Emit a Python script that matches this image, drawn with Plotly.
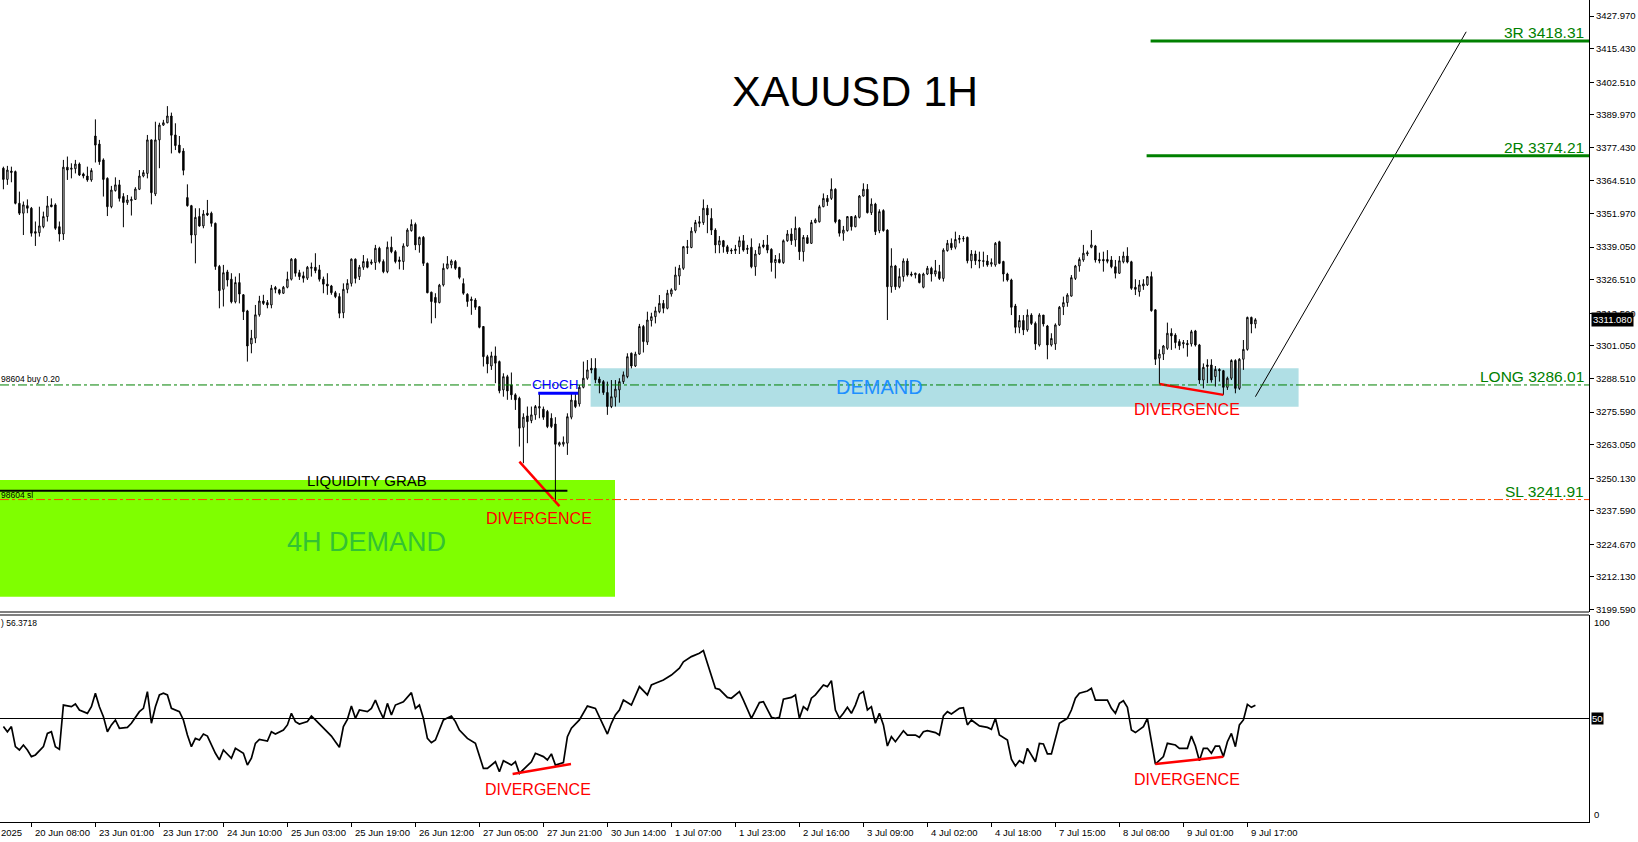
import plotly.graph_objects as go

# ---------------- DATA ----------------
open_ = [3369.4,3365.1,3368.3,3368.1,3355.9,3352.1,3355.0,3354.0,3345.0,3344.6,
3346.9,3350.8,3355.3,3355.3,3346.9,3344.1,3369.8,3369.0,3369.2,3371.0,
3367.2,3366.4,3364.9,3381.8,3378.7,3372.6,3365.5,3354.6,3360.8,3363.0,
3358.5,3356.2,3356.9,3357.4,3361.3,3366.4,3367.4,3380.3,3359.5,3380.3,
3386.0,3386.9,3389.5,3382.2,3378.3,3376.0,3358.1,3355.0,3343.7,3350.8,
3347.2,3352.1,3352.1,3348.2,3331.6,3322.8,3329.5,3326.7,3318.0,3325.4,
3320.7,3314.5,3301.8,3304.0,3313.0,3318.3,3317.7,3316.8,3323.5,3322.6,
3321.3,3323.6,3326.7,3334.4,3329.2,3328.0,3327.1,3330.9,3331.3,3330.3,
3326.7,3324.8,3324.1,3321.5,3320.0,3313.8,3322.8,3325.1,3334.4,3327.7,
3331.3,3333.5,3332.8,3333.1,3338.6,3333.5,3329.6,3339.0,3337.3,3334.1,
3333.5,3339.5,3345.4,3347.8,3339.9,3342.8,3332.8,3321.7,3319.7,3317.7,
3324.5,3330.9,3332.2,3333.5,3331.2,3325.0,3320.9,3319.0,3318.7,3316.1,
3308.5,3296.9,3293.3,3297.2,3295.0,3284.1,3289.2,3286.0,3282.2,3280.9,
3269.7,3274.1,3272.3,3274.5,3277.1,3276.7,3275.8,3273.2,3271.0,3262.9,
3263.2,3263.6,3273.6,3280.0,3278.7,3285.1,3288.6,3292.4,3292.4,3288.3,
3287.3,3283.1,3277.7,3281.3,3284.1,3287.3,3289.2,3298.2,3293.3,3297.9,
3308.5,3302.5,3310.8,3312.3,3314.2,3317.4,3315.5,3321.0,3322.6,3327.9,
3330.9,3338.9,3338.9,3345.2,3348.2,3348.5,3354.0,3350.1,3345.6,3339.9,
3341.5,3339.2,3337.9,3337.7,3339.2,3341.5,3338.6,3339.0,3331.5,3336.4,
3339.9,3339.9,3338.2,3333.1,3334.3,3333.1,3341.5,3344.1,3341.8,3346.3,
3337.3,3342.7,3340.5,3348.5,3348.8,3354.6,3357.8,3357.8,3361.3,3349.5,
3344.4,3345.4,3350.8,3346.9,3350.5,3358.7,3361.3,3352.3,3355.6,3345.4,
3353.1,3345.6,3323.8,3331.8,3323.8,3327.7,3333.7,3328.7,3328.4,3328.6,
3323.6,3328.7,3330.9,3328.7,3329.6,3327.0,3337.7,3340.5,3339.0,3342.0,
3342.2,3342.8,3333.8,3336.4,3334.1,3333.8,3333.7,3332.5,3332.2,3341.1,
3333.5,3328.7,3326.4,3316.4,3308.2,3310.8,3307.2,3312.9,3309.7,3301.4,
3312.9,3308.7,3301.4,3301.8,3309.1,3316.1,3317.7,3320.2,3327.0,3331.8,
3334.1,3336.4,3339.0,3339.5,3334.3,3334.3,3334.3,3334.1,3331.5,3329.0,
3333.4,3335.6,3333.4,3323.6,3321.9,3324.1,3324.5,3327.7,3314.9,3296.3,
3297.9,3300.1,3305.9,3305.2,3302.7,3301.8,3302.0,3301.8,3306.8,3301.4,
3287.9,3293.1,3293.7,3289.2,3292.0,3291.5,3285.1,3288.6,3295.4,3284.7,
3295.9,3299.7,3312.0,3309.5]

high = [3370.0,3370.3,3370.0,3368.5,3360.4,3356.6,3357.4,3354.5,3348.9,3354.6,
3352.7,3358.7,3357.8,3355.9,3348.9,3372.6,3373.9,3371.3,3372.6,3371.6,
3367.7,3370.0,3369.4,3388.2,3380.3,3373.2,3365.9,3362.6,3365.9,3364.9,
3359.8,3359.1,3358.5,3362.1,3368.7,3368.7,3382.2,3380.5,3387.3,3386.9,
3388.0,3393.3,3390.8,3386.7,3381.8,3377.1,3363.2,3355.3,3354.0,3354.0,
3353.3,3357.2,3352.7,3348.5,3332.2,3332.2,3330.3,3329.0,3327.7,3329.0,
3321.0,3314.9,3307.2,3316.8,3320.3,3320.7,3318.7,3324.5,3324.1,3323.0,
3324.1,3329.6,3334.8,3334.8,3330.3,3329.6,3331.8,3333.1,3336.7,3332.2,
3327.7,3329.0,3324.5,3322.2,3321.3,3325.1,3326.7,3334.7,3334.7,3332.2,
3336.0,3334.7,3334.3,3339.9,3339.2,3334.3,3341.2,3343.1,3337.9,3335.4,
3340.5,3346.3,3349.7,3348.5,3343.1,3343.3,3333.1,3321.9,3321.3,3324.9,
3332.8,3335.6,3334.3,3334.1,3331.5,3327.0,3321.3,3320.0,3319.4,3316.4,
3308.7,3297.6,3298.8,3300.8,3295.4,3290.5,3289.9,3290.8,3282.8,3281.5,
3275.1,3277.7,3277.7,3278.3,3282.8,3277.7,3276.4,3275.1,3273.6,3264.2,
3266.2,3275.1,3282.8,3282.8,3286.0,3295.0,3295.6,3296.3,3296.3,3289.2,
3287.9,3287.3,3287.9,3287.9,3288.6,3291.2,3298.2,3298.5,3298.8,3309.5,
3309.1,3314.2,3313.8,3316.1,3320.6,3318.7,3322.6,3323.2,3331.5,3332.2,
3339.5,3341.8,3346.7,3349.5,3351.0,3357.4,3355.3,3354.0,3346.3,3343.3,
3341.8,3339.9,3338.6,3339.9,3343.1,3343.7,3339.9,3342.4,3337.9,3340.5,
3341.8,3343.7,3338.6,3336.0,3336.7,3342.0,3345.6,3346.3,3350.8,3346.7,
3343.7,3343.7,3349.5,3350.1,3355.3,3359.7,3359.1,3365.5,3361.7,3349.7,
3347.2,3351.0,3351.0,3351.4,3359.1,3363.6,3363.3,3357.8,3356.1,3353.6,
3353.6,3345.9,3338.6,3332.2,3330.9,3334.7,3334.7,3329.6,3329.2,3329.0,
3329.2,3331.8,3331.5,3334.1,3332.2,3338.6,3341.8,3342.4,3345.0,3343.7,
3343.3,3343.1,3337.9,3337.7,3337.3,3337.3,3336.0,3334.7,3341.0,3341.5,
3333.8,3329.2,3326.9,3317.2,3312.9,3312.9,3315.1,3313.6,3310.4,3313.6,
3312.9,3309.1,3305.9,3309.7,3316.4,3320.0,3321.3,3328.3,3332.2,3335.1,
3339.9,3337.7,3345.6,3339.9,3336.9,3337.3,3337.9,3335.6,3334.1,3335.6,
3337.3,3339.0,3333.8,3326.7,3326.4,3326.7,3327.9,3329.6,3315.1,3299.7,
3301.4,3310.0,3307.8,3305.9,3303.6,3303.3,3303.3,3307.2,3307.2,3301.8,
3294.3,3295.9,3295.9,3293.3,3292.4,3291.8,3289.2,3295.9,3295.9,3296.3,
3303.3,3312.3,3312.3,3311.7]

low = [3361.3,3363.0,3364.0,3355.5,3351.4,3343.7,3352.1,3343.1,3339.5,3343.1,
3346.3,3348.9,3354.4,3345.7,3341.2,3341.8,3364.9,3365.5,3367.4,3366.4,
3365.5,3364.2,3364.2,3371.6,3370.7,3358.5,3351.0,3354.0,3360.4,3356.6,
3346.7,3355.3,3351.2,3357.2,3361.0,3365.9,3365.5,3355.5,3358.7,3369.4,
3385.7,3386.7,3375.1,3376.4,3375.1,3366.7,3354.6,3340.5,3332.8,3346.9,
3346.3,3351.0,3346.9,3330.3,3315.5,3316.2,3323.9,3317.4,3317.4,3317.4,
3311.0,3295.0,3298.2,3302.1,3312.3,3316.8,3315.5,3315.5,3321.3,3320.7,
3321.0,3323.2,3326.2,3327.7,3326.4,3325.4,3326.4,3327.7,3329.0,3325.8,
3321.3,3320.7,3320.7,3319.4,3311.7,3311.7,3321.3,3323.9,3325.1,3326.4,
3330.3,3330.9,3332.2,3330.3,3332.8,3329.0,3329.0,3336.7,3332.8,3330.5,
3330.3,3339.2,3345.0,3337.9,3336.9,3331.8,3321.3,3309.7,3311.7,3317.4,
3323.9,3330.5,3330.9,3330.3,3326.7,3320.7,3316.1,3313.0,3314.9,3307.8,
3293.1,3290.5,3291.8,3286.7,3282.8,3281.5,3280.3,3280.3,3276.4,3262.3,
3255.9,3263.6,3271.3,3272.6,3273.2,3272.6,3269.4,3269.4,3241.2,3262.3,
3262.3,3259.1,3272.8,3277.1,3277.7,3284.7,3288.0,3290.5,3286.7,3282.8,
3282.2,3274.5,3277.1,3277.7,3279.2,3286.4,3288.6,3292.4,3292.9,3297.6,
3298.5,3301.4,3308.5,3309.7,3313.6,3313.6,3315.1,3320.0,3322.3,3324.5,
3330.3,3336.4,3338.6,3344.4,3346.7,3347.6,3344.4,3343.7,3336.7,3336.7,
3336.9,3336.4,3336.4,3336.4,3336.4,3337.3,3336.4,3330.9,3328.0,3336.0,
3338.6,3336.7,3329.6,3327.0,3332.8,3332.6,3341.1,3339.9,3339.2,3334.1,
3333.5,3340.3,3340.3,3348.2,3348.5,3354.4,3354.9,3357.2,3348.2,3343.1,
3341.5,3345.0,3345.4,3346.7,3350.1,3358.5,3352.0,3351.4,3343.7,3344.4,
3345.0,3311.0,3321.5,3322.6,3323.2,3325.8,3327.7,3327.7,3327.0,3325.1,
3323.2,3328.3,3325.8,3327.7,3326.4,3325.8,3337.3,3337.9,3338.2,3340.5,
3341.1,3332.8,3330.9,3332.2,3330.9,3331.5,3331.5,3331.5,3331.5,3332.5,
3325.8,3325.8,3312.9,3305.9,3305.9,3305.2,3306.5,3309.1,3299.5,3300.8,
3308.5,3295.9,3300.8,3299.5,3308.7,3312.9,3316.1,3320.0,3326.4,3329.6,
3333.4,3335.6,3338.6,3333.1,3332.8,3329.6,3332.8,3330.9,3327.0,3328.7,
3332.8,3332.8,3322.6,3320.6,3320.0,3322.6,3324.1,3314.2,3293.7,3286.4,
3295.6,3299.5,3299.5,3300.1,3299.5,3300.1,3296.9,3300.8,3300.8,3286.4,
3284.7,3286.7,3286.9,3285.4,3287.3,3282.2,3284.1,3287.9,3282.8,3284.1,
3291.8,3299.2,3305.9,3307.8]

close = [3365.1,3368.7,3367.8,3355.9,3352.1,3355.3,3354.0,3344.4,3344.4,3347.2,
3350.8,3354.9,3354.6,3346.3,3344.1,3369.8,3368.7,3369.4,3371.0,3366.8,
3366.4,3364.9,3368.5,3378.3,3371.9,3365.1,3354.6,3361.0,3363.0,3357.8,
3356.2,3357.2,3357.4,3361.4,3366.4,3367.7,3380.3,3360.0,3380.3,3386.0,
3386.9,3389.5,3382.1,3378.1,3375.5,3368.6,3355.0,3343.7,3350.5,3347.2,
3351.8,3351.4,3348.2,3331.6,3322.3,3329.2,3326.4,3318.0,3325.4,3321.0,
3314.2,3301.0,3304.0,3313.0,3318.3,3317.4,3316.8,3323.2,3322.8,3321.3,
3323.6,3326.7,3334.4,3329.0,3327.7,3327.1,3331.3,3331.3,3330.0,3326.7,
3324.8,3324.1,3321.5,3320.0,3313.6,3322.8,3325.1,3334.4,3327.0,3331.3,
3333.5,3331.3,3333.3,3338.6,3333.5,3329.6,3339.0,3337.3,3333.5,3333.5,
3339.5,3345.6,3347.8,3339.9,3342.8,3332.8,3321.5,3318.1,3317.7,3324.4,
3330.9,3332.6,3333.7,3330.9,3327.4,3321.3,3318.1,3318.5,3315.9,3308.2,
3296.9,3294.1,3297.2,3294.4,3283.8,3289.2,3283.7,3282.2,3280.3,3269.4,
3273.6,3271.9,3274.5,3277.7,3277.7,3273.6,3270.0,3270.0,3263.2,3263.8,
3264.0,3273.8,3280.2,3277.7,3285.1,3288.6,3291.8,3291.8,3288.0,3286.9,
3283.1,3277.7,3281.5,3284.4,3287.3,3289.9,3296.9,3293.3,3297.9,3308.5,
3302.7,3311.0,3312.3,3314.5,3317.4,3315.5,3321.3,3322.6,3328.3,3330.9,
3339.2,3339.2,3345.2,3348.5,3348.8,3354.0,3351.4,3345.6,3339.9,3341.5,
3339.2,3337.3,3337.6,3338.3,3341.5,3337.9,3338.2,3331.5,3336.4,3339.2,
3339.2,3337.9,3333.1,3334.3,3333.1,3341.5,3344.1,3341.5,3346.3,3337.3,
3342.8,3340.5,3348.5,3349.5,3354.6,3357.8,3356.5,3361.3,3348.8,3344.4,
3345.6,3350.8,3346.9,3350.8,3358.7,3361.3,3352.3,3355.6,3345.0,3352.7,
3345.4,3323.8,3331.8,3323.8,3327.7,3333.7,3328.3,3328.3,3329.0,3325.4,
3328.7,3330.9,3328.7,3330.0,3327.0,3337.9,3340.5,3338.8,3342.0,3342.4,
3342.4,3333.8,3336.4,3333.8,3333.7,3333.6,3332.2,3333.1,3340.5,3332.8,
3328.7,3326.4,3315.9,3308.2,3310.8,3307.2,3312.9,3309.7,3301.8,3312.9,
3309.5,3301.4,3303.9,3309.1,3315.9,3317.7,3320.6,3327.3,3331.8,3334.3,
3336.7,3336.9,3339.9,3334.1,3333.8,3333.8,3333.6,3331.5,3329.0,3333.8,
3335.6,3333.3,3323.2,3322.8,3324.5,3324.9,3327.7,3314.6,3295.9,3297.9,
3301.0,3305.9,3304.9,3302.3,3301.1,3302.3,3301.5,3306.5,3301.4,3287.9,
3292.8,3293.7,3287.9,3292.0,3291.5,3285.1,3288.6,3295.4,3284.7,3295.9,
3299.7,3312.0,3309.5,3311.08]

bars = list(range(len(close)))

rsi_bar = [0,1,2,3,4,5,6,7,8,10,11,12,13,14,15,17,18,19,21,22,23,24,25,26,27,28,29,31,32,34,
35,36,37,38,39,40,41,42,44,45,46,47,48,49,50,51,53,54,55,57,58,60,61,62,63,64,66,67,68,70,
71,72,73,74,76,77,78,80,81,82,83,84,85,86,87,88,89,91,92,93,94,95,96,97,98,100,102,103,104,105,
106,107,108,110,112,113,114,116,118,119,120,121,123,124,125,127,128,129,131,132,133,135,136,137,138,140,141,142,144,145,
146,148,149,151,152,153,154,155,157,158,159,161,162,163,165,167,169,170,172,174,175,176,178,179,181,182,184,185,187,189,
190,192,193,194,195,197,198,199,200,201,202,203,205,206,207,208,209,210,211,212,213,214,215,216,217,218,219,220,221,222,
223,225,226,228,229,230,231,233,234,235,236,237,239,240,241,242,244,246,247,248,249,251,252,253,254,255,256,258,259,260,
261,262,263,264,266,267,268,269,271,272,273,276,277,278,279,280,281,282,283,285,286,287,288,290,291,293,294,296,297,298,
299,300,301,302,303,304,305,306,307,308,309,310,311,312,313]
rsi_val = [46.1,43.6,46.1,36.4,34.8,37.2,34.8,31.6,32.4,36.4,42.8,43.6,36.4,35.1,56.5,55.7,57.0,54.1,52.5,55.7,62.2,55.7,50.9,43.6,46.9,49.3,45.3,45.7,47.7,53.3,
54.9,63.0,47.7,55.7,61.4,62.2,61.4,54.9,53.3,49.3,42.0,36.4,40.4,39.6,42.5,41.5,33.2,30.0,34.8,30.8,35.6,33.2,27.5,30.8,38.0,39.9,39.1,43.6,42.5,44.4,
46.9,52.5,48.5,47.3,48.5,51.2,49.3,45.3,43.6,41.5,38.8,36.1,46.1,49.6,56.0,50.1,54.1,53.3,54.9,58.9,54.1,50.1,57.3,51.7,56.5,58.1,62.5,54.9,56.5,50.1,
40.4,38.3,39.6,49.3,51.2,48.5,44.4,40.4,38.0,31.6,25.9,25.9,29.1,24.3,29.6,27.5,29.1,23.5,27.5,29.1,33.2,31.6,30.0,32.9,27.5,28.7,41.2,45.3,49.3,52.5,
56.0,54.9,50.9,42.5,47.7,51.7,54.1,58.9,56.5,61.4,65.4,61.4,66.2,67.0,68.6,71.0,74.3,77.4,79.9,81.5,82.8,76.7,64.6,64.1,60.2,59.8,63.0,58.9,50.1,57.7,
58.1,50.6,50.1,50.6,59.3,60.2,61.4,50.1,55.7,54.1,59.8,61.4,66.2,65.4,68.3,54.1,50.1,52.5,55.4,52.5,56.5,61.8,63.0,54.1,55.7,47.7,52.5,46.9,36.7,41.2,
38.8,44.1,42.0,42.0,40.9,43.6,44.1,43.2,42.0,51.2,53.3,52.2,54.9,55.2,46.9,49.3,46.4,45.7,44.8,50.1,42.0,39.6,30.3,27.1,29.6,28.4,35.6,29.1,38.0,37.7,
32.9,32.9,40.4,47.7,50.1,54.1,59.8,62.2,63.3,64.6,58.9,58.9,54.9,52.5,57.3,58.6,55.4,44.4,43.2,46.1,50.1,39.6,28.0,31.6,38.0,37.2,35.6,35.6,41.5,36.7,
29.6,35.6,35.6,33.2,36.7,36.7,31.6,38.8,42.8,36.4,46.9,49.3,56.8,55.4,56.37]
rsi_last = 56.3718

time_tick_bars = [7,23,39,55,71,87,103,119,135,151,167,183,199,215,231,247,263,279,295,311]
time_labels = ["20 Jun 08:00","23 Jun 01:00","23 Jun 17:00","24 Jun 10:00","25 Jun 03:00",
               "25 Jun 19:00","26 Jun 12:00","27 Jun 05:00","27 Jun 21:00","30 Jun 14:00","1 Jul 07:00",
               "1 Jul 23:00","2 Jul 16:00","3 Jul 09:00","4 Jul 02:00","4 Jul 18:00","7 Jul 15:00",
               "8 Jul 08:00","9 Jul 01:00","9 Jul 17:00"]
first_date_label = "2025"   # visible tail of the first (cut) date label

price_ticks = [3427.970,3415.430,3402.510,3389.970,3377.430,3364.510,3351.970,3339.050,3326.510,
               3313.590,3301.050,3288.510,3275.590,3263.050,3250.130,3237.590,3224.670,3212.130,3199.590]

level_3r, level_2r, level_long, level_sl = 3418.31, 3374.21, 3286.01, 3241.91
zone_4h = (-0.85, 152.9, 3204.5, 3249.4)      # bar0, bar1, price_low, price_high
zone_1h = (146.8, 323.8, 3277.6, 3292.4)
liq_grab = (-0.85, 141.0, 3245.3)
choch = (133.7, 143.7, 3282.8)
div_price_1 = ([129, 139], [3256.5, 3239.4])
div_price_2 = ([289, 305], [3286.4, 3282.2])
div_rsi_1 = ([127.3, 141.9], [23.2, 28.0])
div_rsi_2 = ([288.0, 305.0], [28.0, 31.5])
projection = ([313.0, 365.7], [3281.5, 3421.9])
last_price = 3311.08

# ---------------- FIGURE ----------------
FONT = "Liberation Sans, Arial, sans-serif"
GREEN = "#008000"
XR = [-0.85, 396.4]
MAIN_DOM = [0.25547, 1.0]
RSI_DOM = [0.0, 0.25182]

fig = go.Figure()
fig.add_trace(go.Candlestick(
    x=bars, open=open_, high=high, low=low, close=close,
    increasing=dict(line=dict(color="black", width=1), fillcolor="white"),
    decreasing=dict(line=dict(color="black", width=1), fillcolor="black"),
    whiskerwidth=0, hoverinfo="skip", xaxis="x", yaxis="y"))

fig.add_trace(go.Scatter(x=rsi_bar, y=rsi_val, mode="lines",
                         line=dict(color="black", width=1.7), hoverinfo="skip",
                         xaxis="x2", yaxis="y2"))
for xs, ys in (div_price_1, div_price_2):
    fig.add_trace(go.Scatter(x=xs, y=ys, mode="lines", line=dict(color="red", width=2.5),
                             hoverinfo="skip", xaxis="x", yaxis="y"))
for xs, ys in (div_rsi_1, div_rsi_2):
    fig.add_trace(go.Scatter(x=xs, y=ys, mode="lines", line=dict(color="red", width=2.5),
                             hoverinfo="skip", xaxis="x2", yaxis="y2"))
fig.add_trace(go.Scatter(x=projection[0], y=projection[1], mode="lines",
                         line=dict(color="black", width=1), hoverinfo="skip",
                         xaxis="x", yaxis="y"))

shapes = [
    dict(type="rect", xref="x", yref="y", x0=zone_4h[0], x1=zone_4h[1], y0=zone_4h[2], y1=zone_4h[3],
         fillcolor="#7FFF00", line=dict(width=0), layer="below"),
    dict(type="rect", xref="x", yref="y", x0=zone_1h[0], x1=zone_1h[1], y0=zone_1h[2], y1=zone_1h[3],
         fillcolor="#B0DFE5", line=dict(width=0), layer="below"),
    dict(type="line", xref="paper", yref="y", x0=0, x1=1, y0=level_long, y1=level_long,
         line=dict(color=GREEN, width=1, dash="dashdot")),
    dict(type="line", xref="paper", yref="y", x0=0, x1=1, y0=level_sl, y1=level_sl,
         line=dict(color="#FF4500", width=1, dash="dashdot")),
    dict(type="line", xref="x", yref="y", x0=286.8, x1=XR[1], y0=level_3r, y1=level_3r,
         line=dict(color=GREEN, width=3)),
    dict(type="line", xref="x", yref="y", x0=285.8, x1=XR[1], y0=level_2r, y1=level_2r,
         line=dict(color=GREEN, width=3)),
    dict(type="line", xref="x", yref="y", x0=liq_grab[0], x1=liq_grab[1], y0=liq_grab[2], y1=liq_grab[2],
         line=dict(color="black", width=2)),
    dict(type="line", xref="x", yref="y", x0=choch[0], x1=choch[1], y0=choch[2], y1=choch[2],
         line=dict(color="#0000FF", width=3)),
    dict(type="line", xref="paper", yref="y2", x0=0, x1=1, y0=50, y1=50,
         line=dict(color="black", width=1)),
    dict(type="line", xref="paper", yref="paper", x0=0, x1=1, y0=MAIN_DOM[0], y1=MAIN_DOM[0],
         line=dict(color="black", width=1)),
    dict(type="line", xref="paper", yref="paper", x0=0, x1=1, y0=RSI_DOM[1], y1=RSI_DOM[1],
         line=dict(color="black", width=1)),
]

ann = []
def txt(text, x, y, size, color, xref="x", yref="y", xanchor="center", yanchor="middle", **kw):
    d = dict(text=text, x=x, y=y, xref=xref, yref=yref, xanchor=xanchor, yanchor=yanchor,
             showarrow=False, font=dict(family=FONT, size=size, color=color))
    d.update(kw)
    ann.append(d)

txt("XAUUSD 1H", 0.5381, 0.8893, 43, "black", xref="paper", yref="paper")
for lab, lv in (("3R 3418.31", level_3r), ("2R 3374.21", level_2r),
                ("LONG 3286.01", level_long), ("SL 3241.91", level_sl)):
    txt(lab, 0.998, lv, 15.5, GREEN, xref="paper", xanchor="right", yanchor="bottom", yshift=-2)
txt("DEMAND", 219, 3285.3, 20, "#1E90FF")
txt("CHoCH", 137.9, 3286.0, 13.5, "#0000FF")
txt("LIQUIDITY GRAB", 90.9, 3249.1, 15, "black")
txt("4H DEMAND", 90.7, 3225.6, 27, "#33C233")
txt("DIVERGENCE", 133.9, 3234.8, 16, "red")
txt("DIVERGENCE", 296.0, 3276.5, 16, "red")
txt("DIVERGENCE", 133.65, 15.5, 16, "red", xref="x2", yref="y2")
txt("DIVERGENCE", 295.9, 20.3, 16, "red", xref="x2", yref="y2")
txt("98604 buy 0.20", 0, 3288.3, 8.5, "black", xref="paper", xanchor="left", xshift=-1)
txt("98604 sl", 0, 3243.7, 8.5, "black", xref="paper", xanchor="left", xshift=-1)
txt(") %.4f" % rsi_last, 0, 96, 8.5, "black", xref="paper", yref="y2", xanchor="left", xshift=-1)
# price-axis extras
txt("%.3f" % last_price, 1, last_price, 9.5, "white", xref="paper", xanchor="left", xshift=2,
    bgcolor="black", borderpad=1)
txt("50", 1, 50, 9.5, "white", xref="paper", yref="y2", xanchor="left", xshift=2, bgcolor="black", borderpad=0)
txt("100", 1, 96.6, 9.5, "black", xref="paper", yref="y2", xanchor="left", xshift=3)
txt("0", 1, 3.4, 9.5, "black", xref="paper", yref="y2", xanchor="left", xshift=3)
# time labels (left-aligned at tick like MT4)
for b, lab in zip(time_tick_bars, time_labels):
    txt(lab, b + 0.4, 0, 9.5, "black", xref="x2", yref="paper", xanchor="left", yanchor="top", yshift=-3)
txt(first_date_label, 0, 0, 9.5, "black", xref="paper", yref="paper", xanchor="left", yanchor="top",
    yshift=-3, xshift=-1)

fig.update_layout(
    width=1638, height=842, margin=dict(l=0, r=49, t=0, b=20),
    paper_bgcolor="white", plot_bgcolor="white", showlegend=False,
    boxgap=0.5, shapes=shapes, annotations=ann,
    font=dict(family=FONT, size=9, color="black"),
    xaxis=dict(domain=[0, 1], range=XR, anchor="y", showticklabels=False, showgrid=False,
               zeroline=False, showline=False, ticks="", rangeslider=dict(visible=False)),
    xaxis2=dict(domain=[0, 1], range=XR, anchor="y2", showgrid=False, zeroline=False,
                showline=True, linecolor="black", linewidth=1, ticks="outside", ticklen=4,
                tickcolor="black", tickvals=time_tick_bars, showticklabels=False),
    yaxis=dict(domain=MAIN_DOM, range=[3198.65, 3434.13], side="right", anchor="x",
               showgrid=False, zeroline=False, showline=True, linecolor="black", linewidth=1,
               ticks="outside", ticklen=4, tickcolor="black",
               tickvals=price_ticks, ticktext=["%.3f" % v for v in price_ticks],
               tickfont=dict(family=FONT, size=9.5, color="black")),
    yaxis2=dict(domain=RSI_DOM, range=[0, 100], side="right", anchor="x2",
                showgrid=False, zeroline=False, showline=True, linecolor="black", linewidth=1,
                showticklabels=False, ticks=""),
)

fig.write_html("out.html", config={"displayModeBar": False},
               post_script="document.body.style.margin='0px';document.body.style.overflow='hidden';")
